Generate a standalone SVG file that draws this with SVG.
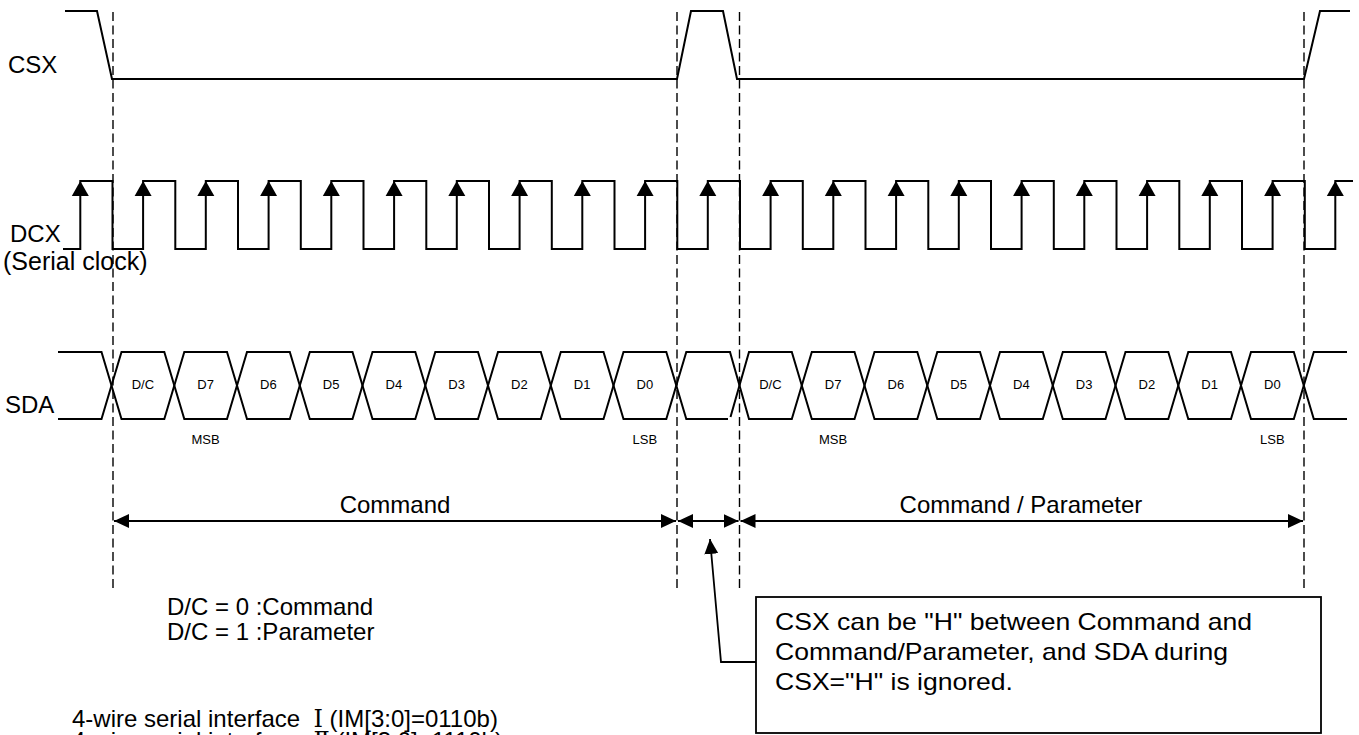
<svg xmlns="http://www.w3.org/2000/svg" xmlns:xlink="http://www.w3.org/1999/xlink" width="1359" height="735" viewBox="0 0 1359 735">
<style>
  .wave{fill:none;stroke:#000;stroke-width:2;stroke-linejoin:miter}
  .dash{fill:none;stroke:#000;stroke-width:1.4;stroke-dasharray:9 4.5}
  .dim{fill:none;stroke:#000;stroke-width:1.8}
  .lbl{font-family:"Liberation Sans",Arial,"Noto Sans CJK SC",sans-serif;font-size:24px;fill:#000}
  .note{font-family:"Liberation Sans",Arial,sans-serif;font-size:24px;fill:#000}
  .cell{font-family:"Liberation Sans",Arial,sans-serif;font-size:13px;fill:#000;text-anchor:middle}
  .mid{text-anchor:middle}
  .rn{font-family:"DejaVu Serif","Noto Sans CJK SC",serif}
</style>
<defs>
  <path id="up" d="M0,0 L-8.5,15 L8.5,15 Z" fill="#000"/>
  <marker id="ah" viewBox="0 0 15 14" refX="15" refY="7" markerWidth="15" markerHeight="14" markerUnits="userSpaceOnUse" orient="auto-start-reverse">
    <path d="M0,0 L15,7 L0,14 Z" fill="#000"/>
  </marker>
</defs>
<rect width="1359" height="735" fill="#fff"/>

<g id="guides">
  <line class="dash" x1="113" y1="12" x2="113" y2="588"/>
  <line class="dash" x1="677" y1="12" x2="677" y2="588"/>
  <line class="dash" x1="739.5" y1="12" x2="739.5" y2="588"/>
  <line class="dash" x1="1304" y1="12" x2="1304" y2="588"/>
</g>

<g id="csx">
  <text class="lbl" x="8" y="73">CSX</text>
  <path class="wave" d="M65,11 H97 L112,79 H677 L691,11 H723 L737,79 H1304 L1320,11 H1350"/>
</g>

<g id="dcx">
  <text class="lbl" x="10" y="242">DCX</text>
  <text class="lbl" x="3" y="270" style="font-size:25px">(Serial clock)</text>
  <path class="wave" d="M63,249 H80.3 V181 H112.5 V249 H143.1 V181 H175.3 V249 H205.8 V181 H238 V249 H268.6 V181 H300.8 V249 H331.3 V181 H363.5 V249 H394.1 V181 H426.3 V249 H456.8 V181 H489 V249 H519.6 V181 H551.8 V249 H582.3 V181 H614.5 V249 H645.1 V181 H677.3 V249 H707.8 V181 H740 V249 H770.6 V181 H802.8 V249 H833.3 V181 H865.5 V249 H896.1 V181 H928.3 V249 H958.8 V181 H991 V249 H1021.6 V181 H1053.8 V249 H1084.3 V181 H1116.5 V249 H1147.1 V181 H1179.3 V249 H1209.8 V181 H1242 V249 H1272.6 V181 H1304.8 V249 H1335.3 V181 H1353"/>
  <use xlink:href="#up" x="80.3" y="181"/>
  <use xlink:href="#up" x="143.1" y="181"/>
  <use xlink:href="#up" x="205.8" y="181"/>
  <use xlink:href="#up" x="268.6" y="181"/>
  <use xlink:href="#up" x="331.3" y="181"/>
  <use xlink:href="#up" x="394.1" y="181"/>
  <use xlink:href="#up" x="456.8" y="181"/>
  <use xlink:href="#up" x="519.6" y="181"/>
  <use xlink:href="#up" x="582.3" y="181"/>
  <use xlink:href="#up" x="645.1" y="181"/>
  <use xlink:href="#up" x="707.8" y="181"/>
  <use xlink:href="#up" x="770.6" y="181"/>
  <use xlink:href="#up" x="833.3" y="181"/>
  <use xlink:href="#up" x="896.1" y="181"/>
  <use xlink:href="#up" x="958.8" y="181"/>
  <use xlink:href="#up" x="1021.6" y="181"/>
  <use xlink:href="#up" x="1084.3" y="181"/>
  <use xlink:href="#up" x="1147.1" y="181"/>
  <use xlink:href="#up" x="1209.8" y="181"/>
  <use xlink:href="#up" x="1272.6" y="181"/>
  <use xlink:href="#up" x="1335.3" y="181"/>
</g>

<g id="sda">
  <text class="lbl" x="5" y="413">SDA</text>
  <path class="wave" d="M58,352 H101.5 L121.5,419 H164.3 L184.3,352 H227 L247,419 H289.8 L309.8,352 H352.5 L372.5,419 H415.3 L435.3,352 H478 L498,419 H540.8 L560.8,352 H603.5 L623.5,419 H666.3 L686.3,352 H730 L749,419 H791.8 L811.8,352 H854.5 L874.5,419 H917.3 L937.3,352 H980 L1000,419 H1042.8 L1062.8,352 H1105.5 L1125.5,419 H1168.3 L1188.3,352 H1231 L1251,419 H1293.8 L1313.8,352 H1347"/>
  <path class="wave" d="M58,419 H101.5 L121.5,352 H164.3 L184.3,419 H227 L247,352 H289.8 L309.8,419 H352.5 L372.5,352 H415.3 L435.3,419 H478 L498,352 H540.8 L560.8,419 H603.5 L623.5,352 H666.3 L686.3,419 H728 M730.5,417 L749,352 H791.8 L811.8,419 H854.5 L874.5,352 H917.3 L937.3,419 H980 L1000,352 H1042.8 L1062.8,419 H1105.5 L1125.5,352 H1168.3 L1188.3,419 H1231 L1251,352 H1293.8 L1313.8,419 H1347"/>
  <text class="cell" x="142.9" y="389">D/C</text>
  <text class="cell" x="205.6" y="389">D7</text>
  <text class="cell" x="268.4" y="389">D6</text>
  <text class="cell" x="331.1" y="389">D5</text>
  <text class="cell" x="393.9" y="389">D4</text>
  <text class="cell" x="456.6" y="389">D3</text>
  <text class="cell" x="519.4" y="389">D2</text>
  <text class="cell" x="582.1" y="389">D1</text>
  <text class="cell" x="644.9" y="389">D0</text>
  <text class="cell" x="770.4" y="389">D/C</text>
  <text class="cell" x="833.1" y="389">D7</text>
  <text class="cell" x="895.9" y="389">D6</text>
  <text class="cell" x="958.6" y="389">D5</text>
  <text class="cell" x="1021.4" y="389">D4</text>
  <text class="cell" x="1084.1" y="389">D3</text>
  <text class="cell" x="1146.9" y="389">D2</text>
  <text class="cell" x="1209.6" y="389">D1</text>
  <text class="cell" x="1272.4" y="389">D0</text>
  <text class="cell" x="205.6" y="444">MSB</text>
  <text class="cell" x="644.9" y="444">LSB</text>
  <text class="cell" x="833.1" y="444">MSB</text>
  <text class="cell" x="1272.4" y="444">LSB</text>
</g>

<g id="labels">
  <text class="lbl mid" x="395" y="513">Command</text>
  <text class="lbl mid" x="1021" y="513">Command / Parameter</text>
  <text class="lbl" x="167" y="615">D/C = 0 :Command</text>
  <text class="lbl" x="167" y="640">D/C = 1 :Parameter</text>
  <text class="lbl" x="72" y="727" xml:space="preserve">4-wire serial interface  <tspan class="rn">Ⅰ</tspan> (IM[3:0]=0110b)</text>
  <text class="lbl" x="72" y="749" xml:space="preserve">4-wire serial interface  <tspan class="rn">Ⅱ</tspan> (IM[3:0]=1110b)</text>
</g>

<g id="note">
  <rect x="756" y="597" width="565" height="136" fill="#fff" stroke="#000" stroke-width="1.8"/>
  <text class="note" x="775" y="630" textLength="477" lengthAdjust="spacingAndGlyphs">CSX can be "H" between Command and</text>
  <text class="note" x="775" y="660" textLength="453" lengthAdjust="spacingAndGlyphs">Command/Parameter, and SDA during</text>
  <text class="note" x="775" y="690" textLength="238" lengthAdjust="spacingAndGlyphs">CSX="H" is ignored.</text>
</g>

<g id="connectors">
  <line class="dim" x1="114" y1="521" x2="676" y2="521" marker-start="url(#ah)" marker-end="url(#ah)"/>
  <line class="dim" x1="678" y1="521" x2="738.5" y2="521" marker-start="url(#ah)" marker-end="url(#ah)"/>
  <line class="dim" x1="740.5" y1="521" x2="1303" y2="521" marker-start="url(#ah)" marker-end="url(#ah)"/>
  <path class="dim" d="M756,662 H721 L710,539" marker-end="url(#ah)"/>
</g>
</svg>
